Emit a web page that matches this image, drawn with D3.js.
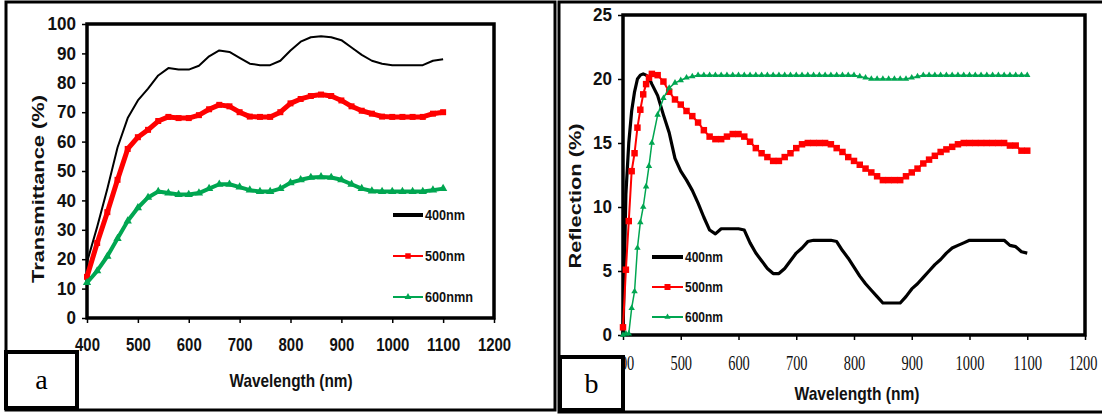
<!DOCTYPE html>
<html><head><meta charset="utf-8">
<script src="https://cdn.jsdelivr.net/npm/d3@7"></script>
<style>body{margin:0;background:#fff}svg{display:block}</style>
</head><body>
<svg id="c" width="1102" height="416"></svg>
<script>
// ---------- DATA ----------
const xTicks = [400,500,600,700,800,900,1000,1100,1200];
const yTicksA = [0,10,20,30,40,50,60,70,80,90,100];
const yTicksB = [0,5,10,15,20,25];

// panel a: transmittance
const wlA = [400,420,440,460,480,500,520,540,560,580,600,620,640,660,680,700,720,740,760,780,800,820,840,860,880,900,920,940,960,980,1000,1020,1040,1060,1080,1100];
const tr400 = [19,31,44,58,68,74,78,82.5,85,84.5,84.5,85.8,89,91,90.5,88.5,86.5,86,86,87.5,91,94,95.5,95.8,95.5,94.5,92,89.5,87.5,86.5,86,86,86,86,87.5,88];
const tr500 = [14,25.5,36,47,57.5,61.5,64,67,68.4,68,68,69,71,72.5,72,70,68.5,68.4,68.4,70,73,74.5,75.5,76,75.5,74,72,70.5,69.5,68.5,68.4,68.4,68.4,68.4,69.5,70];
const tr600 = [12,16,21,27,33,37.5,41,43,42.5,42,42,42.5,44,45.5,45.5,44.5,43.5,43,43,44,46,47,47.8,48,47.8,47,45.5,44,43.2,43,43,43,43,43,43.5,44];
const legendA = ["400nm","500nm","600nmn"];

// panel b: reflection
const wlB = [400,405,410,415,420,425,430,435,440,445,450,460,470,480,490,500,510,520,530,540,550,560,570,580,590,600,610,620,630,640,650,660,670,680,690,700,710,720,730,740,750,760,770,780,790,800,810,820,830,840,850,860,870,880,890,900,910,920,930,940,950,960,970,980,990,1000,1010,1020,1030,1040,1050,1060,1070,1080,1090,1100];
const rf400 = [0,11,15,17.5,19,20,20.3,20.4,20.3,20.1,19.6,18.7,17.2,15.8,13.8,12.8,12.1,11.3,10.3,9.2,8.2,7.9,8.3,8.3,8.3,8.3,8.2,7.2,6.4,5.8,5.2,4.8,4.8,5.2,5.8,6.4,6.8,7.3,7.4,7.4,7.4,7.4,7.3,6.6,6.0,5.3,4.6,4.0,3.5,3.0,2.5,2.5,2.5,2.5,3.0,3.6,4.0,4.5,5.0,5.5,5.9,6.4,6.8,7.0,7.2,7.4,7.4,7.4,7.4,7.4,7.4,7.4,7.0,6.9,6.5,6.4];
const rf500 = [0.6,5.1,8.9,12.8,14.2,16.2,17.6,18.8,19.6,20.1,20.4,20.3,19.8,19.0,18.4,18.0,17.5,17.1,16.6,16.0,15.5,15.3,15.3,15.5,15.7,15.7,15.5,15.1,14.6,14.2,13.9,13.6,13.6,13.9,14.2,14.6,14.9,15.0,15.0,15.0,15.0,14.9,14.6,14.3,13.9,13.6,13.3,13.0,12.7,12.4,12.1,12.1,12.1,12.1,12.4,12.7,13.0,13.4,13.7,14.0,14.3,14.5,14.7,14.9,15.0,15.0,15.0,15.0,15.0,15.0,15.0,15.0,14.8,14.8,14.4,14.4];
const rf600 = [0,0.1,0.1,2.1,3.4,6.8,8.8,10.0,11.6,13.2,15.0,17.2,18.5,19.3,19.7,19.9,20.1,20.2,20.3,20.3,20.3,20.3,20.3,20.3,20.3,20.3,20.3,20.3,20.3,20.3,20.3,20.3,20.3,20.3,20.3,20.3,20.3,20.3,20.3,20.3,20.3,20.3,20.3,20.3,20.3,20.3,20.2,20.1,20.0,20.0,20.0,20.0,20.0,20.0,20.0,20.1,20.2,20.3,20.3,20.3,20.3,20.3,20.3,20.3,20.3,20.3,20.3,20.3,20.3,20.3,20.3,20.3,20.3,20.3,20.3,20.3];
const legendB = ["400nm","500nm","600nm"];

// ---------- DRAW ----------
const svg = d3.select("#c");
svg.append("rect").attr("width",1102).attr("height",416).attr("fill","#fff");
const SANS = "'Liberation Sans', Arial, sans-serif";
const SERIF = "'Liberation Serif', 'Times New Roman', serif";
const BLACK="#000", RED="#ff0000", GREEN="#00a651";
const fmt = d3.format("d");

// outer panel frames
svg.append("rect").attr("x",6).attr("y",2).attr("width",549).attr("height",408).attr("fill","none").attr("stroke","#000").attr("stroke-width",3);
svg.append("path").attr("d","M1102,2H559V412H1102").attr("fill","none").attr("stroke","#000").attr("stroke-width",3);

function fit(sel, per){ sel.attr("textLength", d => fmt(d).length*per).attr("lengthAdjust","spacingAndGlyphs"); }

function panel(o){
  const x = d3.scaleLinear().domain([400,1200]).range(o.xr);
  const y = d3.scaleLinear().domain(o.yd).range(o.yr);
  const g = svg.append("g");
  const gx = g.append("g").attr("transform",`translate(0,${o.yr[0]})`)
    .call(d3.axisBottom(x).tickValues(xTicks).tickFormat(fmt).tickSize(5).tickSizeOuter(0).tickPadding(o.xpad));
  gx.select(".domain").remove();
  gx.selectAll("line").attr("stroke","#000").attr("stroke-width",1.5);
  gx.selectAll("text").attr("font-family",o.xfont).attr("font-weight",o.xweight).attr("font-size",o.xfs).attr("fill","#111").call(fit,o.xper);
  if(o.lastEnd) gx.selectAll("text").filter(d=>d===1200).attr("text-anchor","end").attr("x",o.lastEnd);
  const gy = g.append("g").attr("transform",`translate(${o.xr[0]},0)`)
    .call(d3.axisLeft(y).tickValues(o.yticks).tickFormat(fmt).tickSize(5).tickSizeOuter(0).tickPadding(6));
  gy.select(".domain").remove();
  gy.selectAll("line").attr("stroke","#000").attr("stroke-width",1.5);
  gy.selectAll("text").attr("font-family",SANS).attr("font-weight","bold").attr("font-size",18).attr("fill","#111").call(fit,o.yper);
  // frame
  g.append("rect").attr("x",o.xr[0]).attr("y",o.yr[1]).attr("width",o.xr[1]-o.xr[0]).attr("height",o.yr[0]-o.yr[1])
    .attr("fill","none").attr("stroke","#000").attr("stroke-width",3.5);
  const line = d3.line().x((d,i)=>x(o.wl[i])).y(d=>y(d));
  o.series.forEach(s=>{
    g.append("path").datum(s.v).attr("d",line).attr("fill","none").attr("stroke",s.c).attr("stroke-width",s.w).attr("stroke-linejoin","round");
    if(s.sym){
      g.append("g").selectAll("path").data(s.v).join("path")
        .attr("transform",(d,i)=>`translate(${x(o.wl[i])},${y(d)})`)
        .attr("d",d3.symbol().type(s.sym).size(s.size)).attr("fill",s.c);
    }
  });
  // legend
  o.series.forEach((s,i)=>{
    const ly = o.leg.y[i];
    g.append("line").attr("x1",o.leg.x1).attr("x2",o.leg.x2).attr("y1",ly).attr("y2",ly).attr("stroke",s.c).attr("stroke-width",s.lw);
    if(s.sym) g.append("path").attr("transform",`translate(${(o.leg.x1+o.leg.x2)/2},${ly})`).attr("d",d3.symbol().type(s.sym).size(s.lsize)).attr("fill",s.c);
    g.append("text").attr("x",o.leg.x2+2).attr("y",ly+5).attr("font-family",SANS).attr("font-weight","bold").attr("font-size",15).attr("fill","#111")
      .text(o.leg.labels[i]).attr("textLength",o.leg.labels[i].length*o.leg.per).attr("lengthAdjust","spacingAndGlyphs");
  });
  // titles
  g.append("text").attr("x",o.xt[0]).attr("y",o.xt[1]).attr("text-anchor","middle").attr("font-family",SANS).attr("font-weight","bold")
    .attr("font-size",19).attr("fill","#111").attr("textLength",o.xt[2]).attr("lengthAdjust","spacingAndGlyphs").text("Wavelength (nm)");
  g.append("text").attr("transform",`translate(${o.yt[0]},${o.yt[1]}) rotate(-90)`).attr("text-anchor","middle").attr("font-family",SANS).attr("font-weight","bold")
    .attr("font-size",17).attr("fill","#111").attr("textLength",o.yt[2]).attr("lengthAdjust","spacingAndGlyphs").text(o.ytitle);
  // label box
  svg.append("rect").attr("x",o.box[0]).attr("y",o.box[1]).attr("width",o.box[2]).attr("height",o.box[3]).attr("fill","#fff").attr("stroke","#000").attr("stroke-width",4);
  svg.append("text").attr("x",o.box[0]+o.box[2]/2).attr("y",o.box[1]+o.box[3]/2+9).attr("text-anchor","middle").attr("font-family",SERIF).attr("font-size",28).attr("fill","#000").text(o.lbl);
}

panel({
  xr:[87,494], yr:[318,24], yd:[0,100], yticks:yTicksA, wl:wlA,
  xfont:SANS, xweight:"bold", xfs:18, xper:8.3, xpad:15, yper:9.5,
  series:[
    {v:tr400,c:BLACK,w:2,lw:4},
    {v:tr500,c:RED,w:5,sym:d3.symbolSquare,size:36,lw:2,lsize:30},
    {v:tr600,c:GREEN,w:4,sym:d3.symbolTriangle,size:30,lw:2,lsize:20}
  ],
  leg:{x1:393,x2:423,y:[215,256,297],labels:legendA,per:8},
  xt:[291,387,123], yt:[44,189,188], ytitle:"Transmittance (%)",
  box:[6,352,71,56], lbl:"a"
});
panel({
  xr:[623,1085], yr:[335,15], yd:[0,25], yticks:yTicksB, wl:wlB,
  xfont:SERIF, xweight:"normal", xfs:22, xper:7.2, xpad:14, yper:9.5, lastEnd:12,
  series:[
    {v:rf400,c:BLACK,w:3.2,lw:4},
    {v:rf500,c:RED,w:2,sym:d3.symbolSquare,size:42,lw:2,lsize:36},
    {v:rf600,c:GREEN,w:1.5,sym:d3.symbolTriangle,size:18,lw:2,lsize:16}
  ],
  leg:{x1:652,x2:683,y:[257,287,317],labels:legendB,per:7.6},
  xt:[857,400,125], yt:[581,196,145], ytitle:"Reflection (%)",
  box:[560,357,63,53], lbl:"b"
});
</script>
</body></html>
